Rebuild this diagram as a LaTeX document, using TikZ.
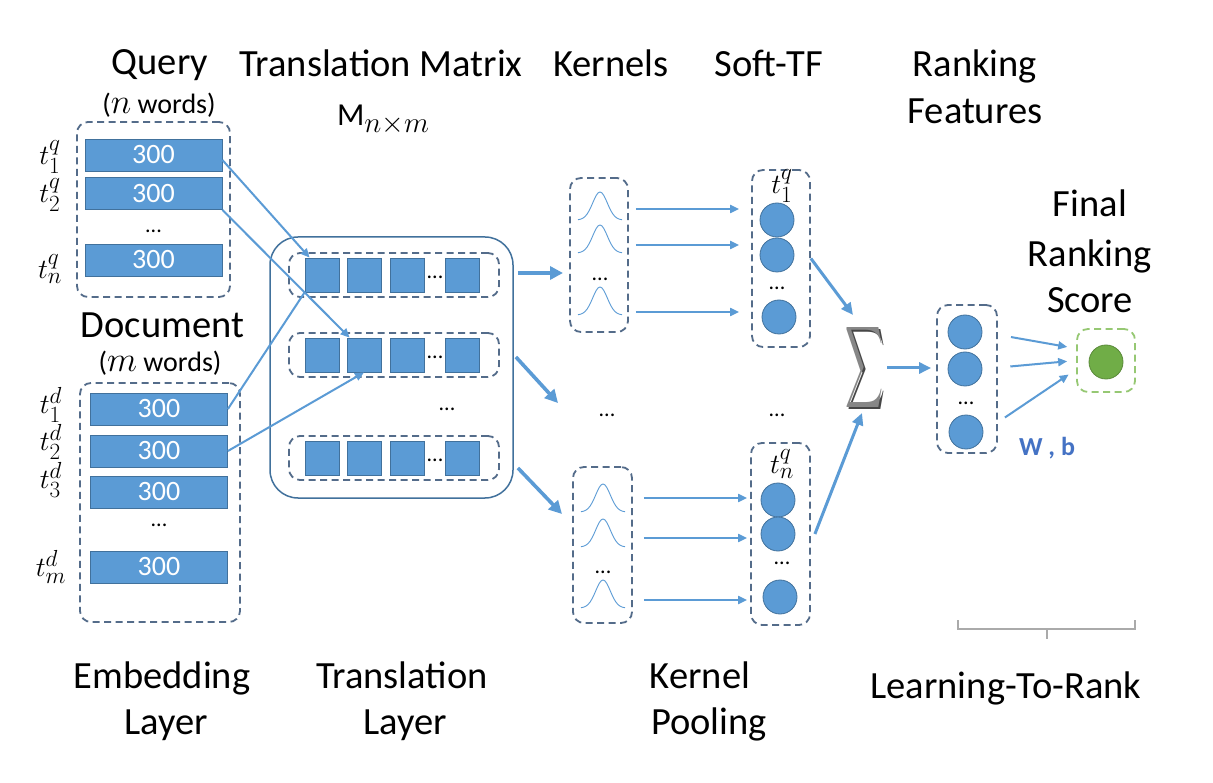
\RequirePackage{fix-cm}
\documentclass[tikz,border=0pt]{standalone}
\usepackage{amsmath}
\usepackage{fontspec}
\setmainfont{Carlito}
\usetikzlibrary{arrows.meta,calc,positioning}
\definecolor{cellblue}{RGB}{91,155,213}
\definecolor{celledge}{RGB}{65,113,156}
\definecolor{boxedge}{RGB}{84,108,138}
\definecolor{scoregreen}{RGB}{112,173,71}
\definecolor{scoreedge}{RGB}{150,200,115}
\definecolor{wbblue}{RGB}{68,114,196}
\definecolor{sigmagray}{RGB}{135,135,135}
\definecolor{sigmashade}{RGB}{70,70,70}
\definecolor{bracketgray}{RGB}{170,170,170}

\begin{document}
\begin{tikzpicture}[x=1pt, y=-1pt, >={Triangle[length=9pt,width=8pt]},
		lab/.style={font=\fontsize{38.5}{40}\selectfont, anchor=base, inner sep=0pt},
		sub/.style={font=\fontsize{28}{30}\selectfont, anchor=base, inner sep=0pt},
		tok/.style={font=\fontsize{24.88}{27}\selectfont, inner sep=0pt, scale=1.12},
		dots/.style={font=\fontsize{22}{24}\selectfont, inner sep=0pt},
		bar/.style={fill=cellblue, draw=celledge, line width=0.8pt, minimum width=137pt, minimum height=32pt, inner sep=0pt, text=white, font=\fontsize{28}{30}\selectfont},
		cell/.style={fill=cellblue, draw=celledge, line width=0.8pt, minimum size=34pt, inner sep=0pt},
		unit/.style={circle, fill=cellblue, draw=celledge, line width=0.8pt, minimum size=34pt, inner sep=0pt},
		dbox/.style={draw=boxedge, line width=1.8pt, dash pattern=on 7pt off 4.5pt, rounded corners=11pt, inner sep=0pt},
		arr/.style={->, draw=cellblue, line width=2pt},
		mid/.style={-{Triangle[length=12pt,width=11pt]}, draw=cellblue, line width=3pt},
		fat/.style={-{Triangle[length=13pt,width=13pt]}, draw=cellblue, line width=3.6pt},
		kern/.style={draw=cellblue, line width=0.9pt}]
		\fill[white] (0,0) rectangle (1213,783);
		\useasboundingbox (0,0) rectangle (1213,783);
		
		% headings
		\node[lab] (query) at (160,75) {Query};
		\node[sub] (qwords) at (159,114) {(\scalebox{1.25}{$n$} words)};
		\node[lab] (trans) at (381,77) {Translation Matrix};
		\node[font=\fontsize{32}{34}\selectfont, anchor=base, inner sep=0pt] (mnm) at (383,126) {M\raisebox{-7pt}{\scalebox{1.3}{$\scriptstyle n\times m$}}};
		\node[lab] (kernels) at (611,77) {Kernels};
		\node[lab] (softtf) at (769,77) {Soft-TF};
		\node[lab] (rank1) at (975,77) {Ranking};
		\node[lab] (rank2) at (975,124) {Features};
		\node[lab] (final1) at (1090,217) {Final};
		\node[lab] (final2) at (1090,267) {Ranking};
		\node[lab] (final3) at (1090,313) {Score};
		\node[lab] (doc) at (162.5,338) {Document};
		\node[sub] (dwords) at (160,372) {(\scalebox{1.25}{$m$} words)};
		
		% query and document embeddings
		\node[dbox, minimum width=153pt, minimum height=175pt] (qbox) at (153.5,209.5) {};
		\foreach \y [count=\i] in {155,193.5,260} {
			\node[bar] (q\i) at (153.5,\y) {300};
		};
		\node[tok] (tq1) at (50,157) {$t_1^q$};
		\node[tok] (tq2) at (50,195) {$t_2^q$};
		\node[tok] (tqn) at (50,269) {$t_n^q$};
		\node[dots] at (153.5,231) {...};
		
		\node[dbox, minimum width=160pt, minimum height=239pt] (dbox) at (160,502.5) {};
		\foreach \y [count=\i] in {409,451,492,567} {
			\node[bar] (d\i) at (159,\y) {300};
		};
		\node[tok] (td1) at (51,405) {$t_1^d$};
		\node[tok] (td2) at (51,442) {$t_2^d$};
		\node[tok] (td3) at (51,480) {$t_3^d$};
		\node[tok] (tdm) at (51,567) {$t_m^d$};
		\node[dots] at (159,525) {...};
		
		% translation matrix
		\node[draw=celledge, line width=1.5pt, rounded corners=28pt, minimum width=243pt, minimum height=261pt] (mat) at (391.5,367.5) {};
		\foreach \ry [count=\r] in {275,355,458} {
			\node[dbox, minimum width=210pt, minimum height=44pt] (r\r) at (394,\ry) {};
			\foreach \cx [count=\c] in {322,364,407,462} {
				\node[cell] (m\r\c) at (\cx,\ry) {};
			};
			\node[dots] at (435,\ry+2) {...};
		};
		\node[dots] (mdots) at (447,409) {...};
		
		\draw[arr] ([yshift=-5pt]q1.east) -- ([xshift=5pt]m11.north west);
		\draw[arr] (q2.south east) -- ([xshift=3pt]m22.north west);
		\draw[cellblue, line width=2pt] (d1.east) -- (m11.south west);
		\draw[arr] (d2.east) -- (m22.south);
		
		% kernels
		\node[dbox, minimum width=58pt, minimum height=154pt] (k1) at (599,255) {};
		\node[dbox, minimum width=59pt, minimum height=156pt] (k2) at (602.5,545) {};
		\foreach \yb/\ya [count=\i] in {220/209,253/245,315/312} {
			\draw[kern] plot[domain=-1:1, samples=25, smooth] ({600+22*\x},{\yb-28*exp(-4.5*\x*\x)});
			\coordinate (ga\i) at (600,\ya);
		};
		\foreach \yb/\ya [count=\i] in {512/498,547/538,608/600} {
			\draw[kern] plot[domain=-1:1, samples=25, smooth] ({603+22*\x},{\yb-28*exp(-4.5*\x*\x)});
			\coordinate (gb\i) at (603,\ya);
		};
		\node[dots] at (600,279) {...};
		\node[dots] at (603,572) {...};
		\node[dots] (kdots) at (607,415) {...};
		
		\coordinate (kin1) at (563,273);
		\coordinate (kin2) at (558,403);
		\coordinate (kin3) at (562,514);
		\draw[fat] (r1.east) ++(18,-2) -- (kin1);
		\draw[fat] (r2.east) ++(16,2) -- (kin2);
		\draw[fat] (r3.east) ++(18,10) -- (kin3);
		
		% soft-tf
		\node[dbox, minimum width=58pt, minimum height=177pt] (s1) at (781,258.5) {};
		\node[dbox, minimum width=59pt, minimum height=182pt] (s2) at (780.5,534) {};
		\node[tok] (ts1) at (782,186) {$t_1^q$};
		\node[tok] (tsn) at (782,464) {$t_n^q$};
		\node[unit] (u11) at (777,220) {};
		\node[unit] (u12) at (777,255) {};
		\node[unit] (u13) at (779,317) {};
		\node[dots] at (777,288) {...};
		\node[unit] (u21) at (778,500) {};
		\node[unit] (u22) at (778,534) {};
		\node[unit] (u23) at (780,597) {};
		\node[dots] at (782,563) {...};
		\node[dots] (sdots) at (777,415) {...};
		
		\foreach \i in {1,2,3} {
			\draw[arr, shorten <=7pt, shorten >=12pt] (k1.east |- ga\i) -- (s1.west |- ga\i);
			\draw[arr, shorten <=11pt, shorten >=3pt] (k2.east |- gb\i) -- (s2.west |- gb\i);
		};
		
		% sum and ranking features
		\node[text=sigmashade, inner sep=0pt] (sigshade) at (866,370) {\resizebox{38pt}{60pt}{$\displaystyle\sum$}};
		\node[text=sigmagray, inner sep=0pt] (sig) at (864,368) {\resizebox{38pt}{60pt}{$\displaystyle\sum$}};
		\coordinate (sin1) at (853,315);
		\coordinate (sin2) at (862,413);
		\draw[mid] (s1.east) -- (sin1);
		\draw[mid] ([xshift=4pt]s2.east) -- (sin2);
		
		\node[dbox, minimum width=60pt, minimum height=148pt] (fbox) at (967,379) {};
		\node[unit] (f1) at (965,332) {};
		\node[unit] (f2) at (965,369) {};
		\node[unit] (f3) at (966,432) {};
		\node[dots] at (966,403) {...};
		\draw[mid, shorten <=4pt, shorten >=5pt] (sig.east) -- (fbox.west |- sig.east);
		
		\node[dbox, draw=scoreedge, minimum width=58pt, minimum height=63pt] (fin) at (1106,360.5) {};
		\node[circle, fill=scoregreen, draw=scoregreen!80!black, line width=0.8pt, minimum size=34pt, inner sep=0pt] (score) at (1106,362) {};
		\draw[arr, shorten <=29pt, shorten >=9pt] (f1.east) -- ($(fin.west)+(0,-12)$);
		\draw[arr, shorten <=28pt, shorten >=9pt] (f2.east) -- (fin.west);
		\draw[arr, shorten <=26pt, shorten >=9pt] (f3.east) -- ($(fin.west)+(0,9)$);
		\node[font=\fontsize{26}{28}\selectfont\bfseries, text=wbblue, inner sep=0pt] (wb) at (1047,448) {W , b};
		
		% layer names
		\node[lab] (emb1) at (162,688) {Embedding};
		\node[lab] (emb2) at (166,734) {Layer};
		\node[lab] (tra1) at (402,688) {Translation};
		\node[lab] (tra2) at (405,734) {Layer};
		\node[lab] (kp1) at (700,688) {Kernel};
		\node[lab] (kp2) at (709,734) {Pooling};
		\node[lab] (ltr) at (1006,698) {Learning-To-Rank};
		\draw[bracketgray, line width=1.3pt] (958,620) -- (958,629) -- (1135,629) -- (1135,620) (1047,629) -- (1047,639);
\end{tikzpicture}
\end{document}
